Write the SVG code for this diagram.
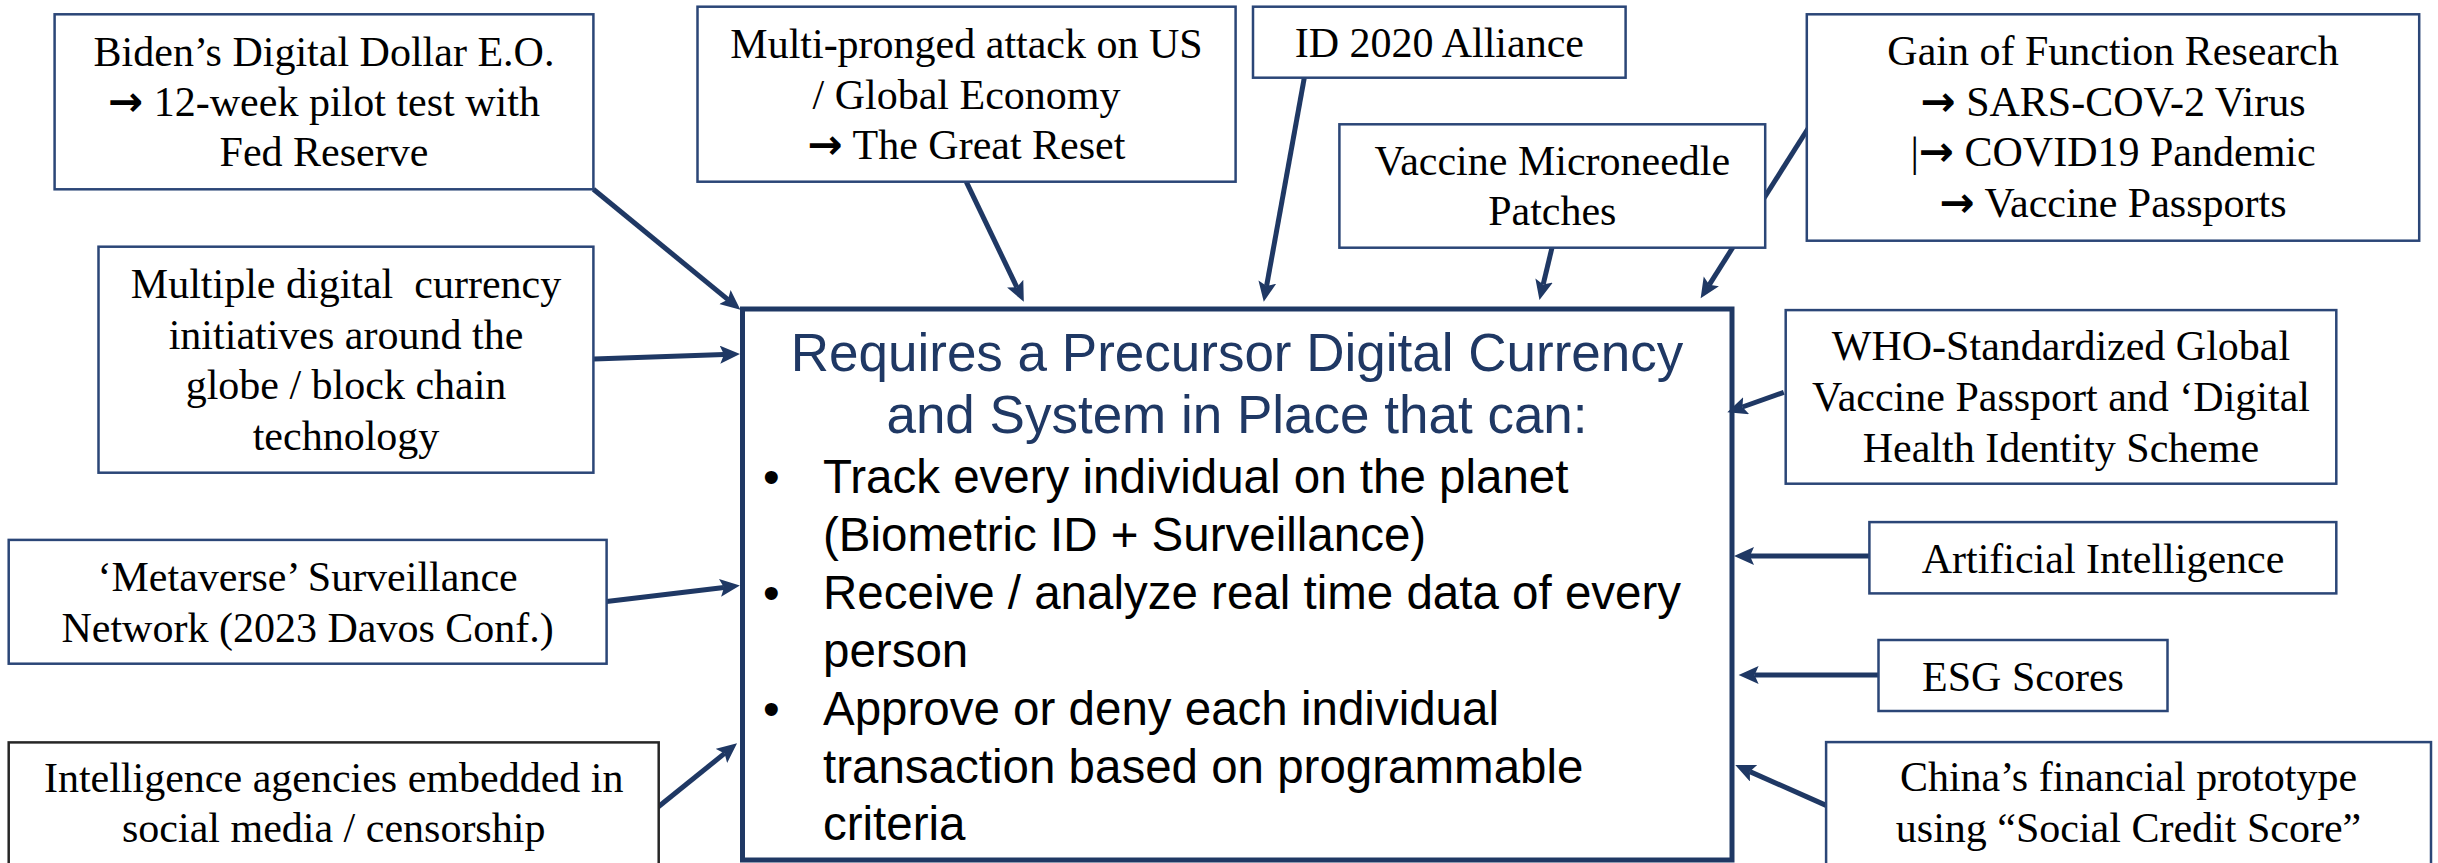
<svg xmlns="http://www.w3.org/2000/svg" width="2438" height="863" viewBox="0 0 2438 863">
<style>
.box{fill:#fff;stroke:#2B4677;stroke-width:2.5}
.t{font-family:"Liberation Serif","Times New Roman",serif;font-size:42px;fill:#000;text-anchor:middle}
.ar{font-family:"DejaVu Sans",sans-serif;font-weight:bold;font-size:42px}
.title{font-family:"Liberation Sans",Arial,sans-serif;font-size:53px;fill:#1F3864;text-anchor:middle}
.b{font-family:"Liberation Sans",Arial,sans-serif;font-size:47.5px;fill:#000}
.c{stroke:#1F3864;stroke-width:5;fill:none;marker-end:url(#ah)}
</style>
<defs>
<marker id="ah" markerUnits="userSpaceOnUse" markerWidth="22" markerHeight="20" refX="4" refY="9" orient="auto">
<path d="M0,0 L20,9 L0,18 L4,9 z" fill="#1F3864"/>
</marker>
</defs>
<rect width="2438" height="863" fill="#fff"/>
<g id="main">
<rect x="742.5" y="309" width="989.5" height="551" fill="#fff" stroke="#1F3864" stroke-width="5"/>
<text class="title" x="1237" y="371">Requires a Precursor Digital Currency</text>
<text class="title" x="1237" y="433">and System in Place that can:</text>
<text class="b" x="763" y="493">•</text>
<text class="b" x="823" y="493">Track every individual on the planet</text>
<text class="b" x="823" y="551">(Biometric ID + Surveillance)</text>
<text class="b" x="763" y="609">•</text>
<text class="b" x="823" y="609">Receive / analyze real time data of every</text>
<text class="b" x="823" y="667">person</text>
<text class="b" x="763" y="725">•</text>
<text class="b" x="823" y="725">Approve or deny each individual</text>
<text class="b" x="823" y="783">transaction based on programmable</text>
<text class="b" x="823" y="840">criteria</text>
</g>
<g id="connectors">
<line class="c" x1="593.4" y1="189.3" x2="728" y2="299.6"/>
<line class="c" x1="594" y1="359" x2="724" y2="354.5"/>
<line class="c" x1="606.6" y1="601.6" x2="724" y2="587.4"/>
<line class="c" x1="655.6" y1="809" x2="724.6" y2="753.4"/>
<line class="c" x1="966.2" y1="181.7" x2="1016.9" y2="287.3"/>
<line class="c" x1="1304.3" y1="77.7" x2="1266.6" y2="286"/>
<line class="c" x1="1552" y1="247.7" x2="1543.2" y2="284.4"/>
<line class="c" x1="1809" y1="127" x2="1709.2" y2="284.8"/>
<line class="c" x1="1783.8" y1="392.3" x2="1742.4" y2="407"/>
<line class="c" x1="1870.4" y1="556" x2="1750" y2="556"/>
<line class="c" x1="1878.8" y1="675" x2="1754.6" y2="675"/>
<line class="c" x1="1826.1" y1="805.4" x2="1749.9" y2="771.6"/>
</g>
<g id="biden">
<rect class="box" x="54.6" y="14.3" width="538.8" height="175"/>
<text class="t" x="324" y="66">Biden’s Digital Dollar E.O.</text>
<text class="t" x="324" y="116"><tspan class="ar">→</tspan> 12-week pilot test with</text>
<text class="t" x="324" y="166">Fed Reserve</text>
</g>
<g id="multiple">
<rect class="box" x="98.5" y="246.7" width="494.9" height="226"/>
<text class="t" x="346" y="298" style="white-space:pre">Multiple digital  currency</text>
<text class="t" x="346" y="348.5">initiatives around the</text>
<text class="t" x="346" y="399">globe / block chain</text>
<text class="t" x="346" y="449.5">technology</text>
</g>
<g id="metaverse">
<rect class="box" x="8.7" y="539.9" width="597.9" height="123.8"/>
<text class="t" x="307.6" y="591">‘Metaverse’ Surveillance</text>
<text class="t" x="307.6" y="642">Network (2023 Davos Conf.)</text>
</g>
<g id="intelligence">
<rect class="box" x="8.7" y="742.4" width="650" height="130" style="stroke:#262626"/>
<text class="t" x="333.7" y="792">Intelligence agencies embedded in</text>
<text class="t" x="333.7" y="842">social media / censorship</text>
</g>
<g id="multipronged">
<rect class="box" x="697.5" y="6.7" width="538.1" height="175"/>
<text class="t" x="966.5" y="58">Multi-pronged attack on US</text>
<text class="t" x="966.5" y="108.5">/ Global Economy</text>
<text class="t" x="966.5" y="159"><tspan class="ar">→</tspan> The Great Reset</text>
</g>
<g id="id2020">
<rect class="box" x="1253" y="6.7" width="372.6" height="71"/>
<text class="t" x="1439.3" y="57">ID 2020 Alliance</text>
</g>
<g id="vaccine">
<rect class="box" x="1339.4" y="124.3" width="425.8" height="123.4"/>
<text class="t" x="1552.3" y="175">Vaccine Microneedle</text>
<text class="t" x="1552.3" y="225">Patches</text>
</g>
<g id="gain">
<rect class="box" x="1806.8" y="14.3" width="612.4" height="226.4"/>
<text class="t" x="2113" y="65">Gain of Function Research</text>
<text class="t" x="2113" y="115.5"><tspan class="ar">→</tspan> SARS-COV-2 Virus</text>
<text class="t" x="2113" y="166">|<tspan class="ar">→</tspan> COVID19 Pandemic</text>
<text class="t" x="2113" y="216.5"><tspan class="ar">→</tspan> Vaccine Passports</text>
</g>
<g id="who">
<rect class="box" x="1785.7" y="310.1" width="550.6" height="173.6"/>
<text class="t" x="2061" y="360">WHO-Standardized Global</text>
<text class="t" x="2061" y="410.5">Vaccine Passport and ‘Digital</text>
<text class="t" x="2061" y="461.5">Health Identity Scheme</text>
</g>
<g id="ai">
<rect class="box" x="1869.4" y="522.1" width="466.9" height="71.3"/>
<text class="t" x="2103" y="573">Artificial Intelligence</text>
</g>
<g id="esg">
<rect class="box" x="1878.5" y="640" width="289" height="71"/>
<text class="t" x="2023" y="690.5">ESG Scores</text>
</g>
<g id="china">
<rect class="box" x="1826.1" y="742.1" width="604.9" height="130"/>
<text class="t" x="2128.5" y="790.5">China’s financial prototype</text>
<text class="t" x="2128.5" y="841.5">using “Social Credit Score”</text>
</g>
</svg>
